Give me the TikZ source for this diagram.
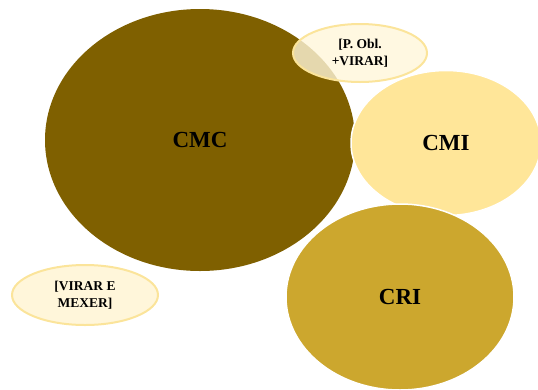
\documentclass[tikz,border=0pt]{standalone}
\usepackage{fontspec}
\setmainfont{Liberation Serif}
\definecolor{cmc}{HTML}{7F6000}
\definecolor{cmi}{HTML}{FFE699}
\definecolor{cri}{HTML}{CCA72E}
\definecolor{pale}{HTML}{FFF6DA}
\definecolor{rim}{HTML}{FBE49A}
\tikzset{
  big/.style={ellipse, draw=white, line width=1.5pt, inner sep=0pt, font=\fontsize{23}{25}\selectfont\bfseries},
  small/.style={ellipse, draw=rim, line width=2pt, fill=pale, inner sep=0pt, align=center, font=\fontsize{13.5}{16.5}\selectfont\bfseries},
}
\usetikzlibrary{shapes.geometric}
\begin{document}
\begin{tikzpicture}[x=1pt,y=-1pt]
\useasboundingbox (0,0) rectangle (538,389);
\node[big, fill=cmc, draw=none, minimum width=310, minimum height=262] (cmc) at (200,140) {CMC};
\node[small, fill opacity=0.8, text opacity=1, minimum width=134, minimum height=58] (pobl) at (360,53) {[P. Obl.\\+VIRAR]};
\node[big, fill=cmi, minimum width=190, minimum height=145] (cmi) at (446,143) {CMI};
\node[big, fill=cri, minimum width=228, minimum height=186] (cri) at (400,297) {CRI};
\node[small, minimum width=146, minimum height=60] (vm) at (85,295) {[VIRAR E\\MEXER]};
\end{tikzpicture}
\end{document}
